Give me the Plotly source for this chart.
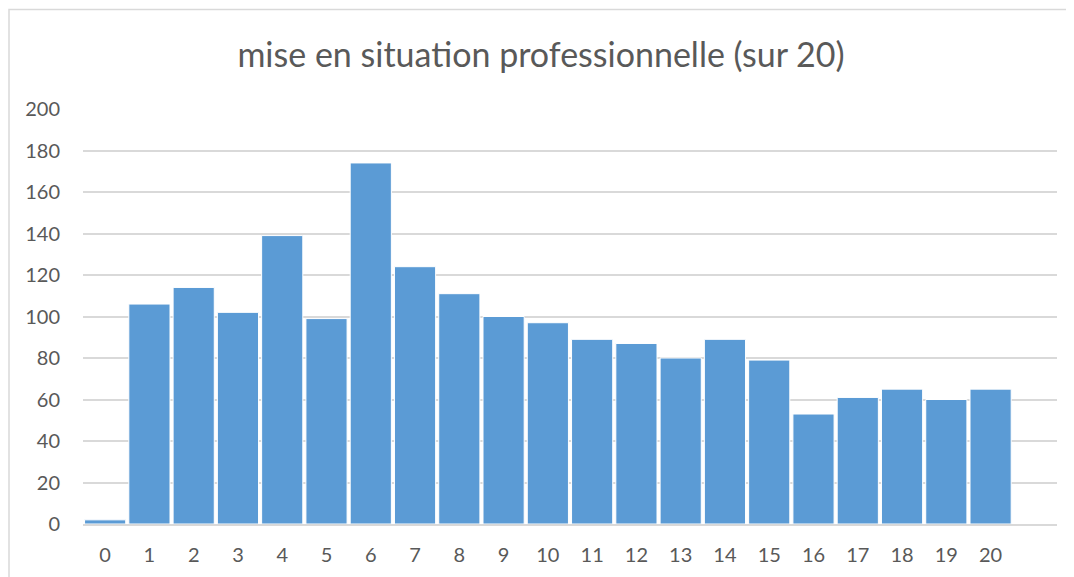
import plotly.graph_objects as go

categories = [str(i) for i in range(21)] + [" "]
counts = [2, 106, 114, 102, 139, 99, 174, 124, 111, 100, 97, 89, 87, 80, 89, 79, 53, 61, 65, 60, 65, None]
y_ticks = list(range(0, 201, 20))

# page body has an 8px default margin, so the figure starts at (8, 8)
OFF = 8
W, H = 1074 - OFF, 577 - OFF
L, R, T, B = 83 - OFF, 17, 109 - OFF, 53
pw, ph = W - L - R, H - T - B

fig = go.Figure(go.Bar(
    x=categories, y=counts,
    marker=dict(color="#5B9BD5", line=dict(color="#ffffff", width=1)),
))

fig.update_layout(
    width=W, height=H,
    margin=dict(l=L, r=R, t=T, b=B),
    paper_bgcolor="white", plot_bgcolor="white",
    font=dict(family="Lato, Open Sans, sans-serif", color="#595959", size=20),
    title=dict(text="mise en situation professionnelle (sur 20)",
               x=0.5, xanchor="center", y=1 - (55 - OFF) / H, yanchor="middle",
               font=dict(size=34, color="#595959")),
    bargap=0.07,
    showlegend=False,
    xaxis=dict(type="category", range=[-0.5, 21.5], showgrid=False,
               showline=True, linecolor="#d9d9d9", linewidth=1.5,
               ticks="", ticklabelstandoff=12,
               tickfont=dict(size=20, color="#595959")),
    yaxis=dict(range=[0, 200], tickvals=y_ticks, showgrid=True,
               gridcolor="#d9d9d9", gridwidth=1.5, zeroline=False,
               ticks="", ticklabelstandoff=22,
               tickfont=dict(size=20, color="#595959")),
    shapes=[dict(type="rect", xref="paper", yref="paper",
                 x0=(1 - L) / pw, x1=(W + 10 - L) / pw,
                 y0=(H - B - 700) / ph, y1=(H - B - 1.5) / ph,
                 line=dict(color="#d9d9d9", width=1.5), layer="below")],
)

fig.write_html("out.html")
